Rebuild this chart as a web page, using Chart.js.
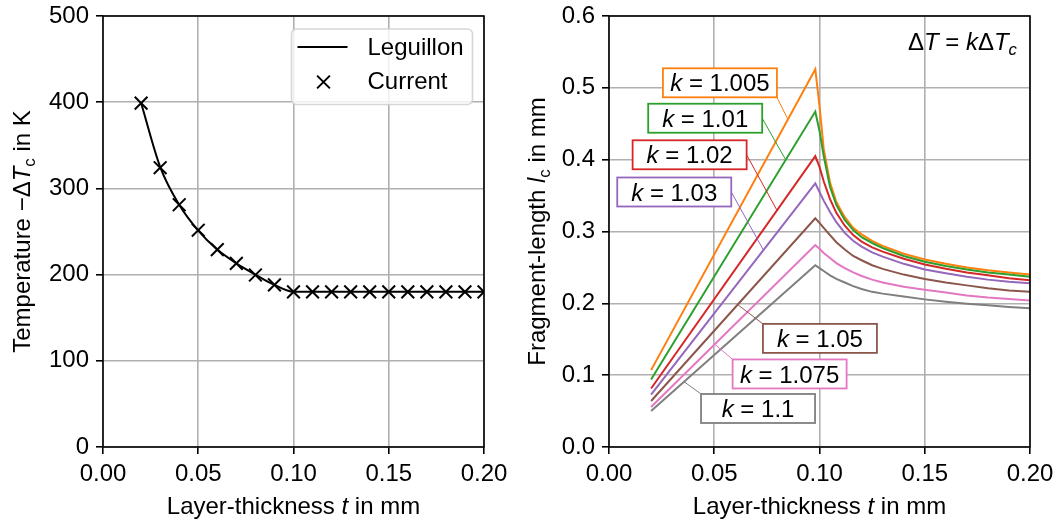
<!DOCTYPE html>
<html><head><meta charset="utf-8">
<script src="https://cdn.jsdelivr.net/npm/chart.js@4/dist/chart.umd.min.js"></script>
<style>
html,body{margin:0;padding:0;background:#fff;width:1059px;height:522px;overflow:hidden}
#c1{position:absolute;left:0;top:0}
#c2{position:absolute;left:515px;top:0}
</style></head><body>
<canvas id="c1" width="515" height="522"></canvas>
<canvas id="c2" width="544" height="522"></canvas>
<script>
// ---------- data ----------
const thicknessLeft = [0.02,0.03,0.04,0.05,0.06,0.07,0.08,0.09,0.10,0.11,0.12,0.13,0.14,0.15,0.16,0.17,0.18,0.19,0.20];
const tempLeguillon = [399,325,281,251,229,213,200,188,180,180,180,180,180,180,180,180,180,180,180];
const tempCurrent   = [399,324,281,251.5,229,213,199.5,188,180,180,180,180,180,180,180,180,180,180,180];

const thicknessRight = [0.02,0.098,0.100,0.102,0.105,0.108,0.112,0.116,0.12,0.125,0.13,0.14,0.15,0.16,0.17,0.18,0.19,0.20];
const lenK1005 = [0.107,0.526,0.475,0.415,0.368,0.341,0.320,0.305,0.296,0.287,0.280,0.269,0.261,0.255,0.250,0.246,0.243,0.240];
const lenK101  = [0.094,0.467,0.440,0.405,0.362,0.337,0.316,0.302,0.292,0.284,0.277,0.266,0.258,0.252,0.247,0.243,0.240,0.237];
const lenK102  = [0.0815,0.405,0.390,0.370,0.345,0.326,0.308,0.295,0.286,0.278,0.272,0.262,0.254,0.248,0.243,0.239,0.235,0.232];
const lenK103  = [0.073,0.367,0.355,0.343,0.327,0.313,0.298,0.287,0.279,0.271,0.265,0.255,0.247,0.242,0.237,0.233,0.230,0.228];
const lenK105  = [0.064,0.3185,0.312,0.305,0.295,0.285,0.275,0.266,0.260,0.253,0.248,0.240,0.234,0.229,0.225,0.221,0.218,0.216];
const lenK1075 = [0.0558,0.281,0.276,0.270,0.263,0.256,0.249,0.243,0.238,0.233,0.229,0.223,0.219,0.215,0.211,0.208,0.206,0.204];
const lenK11   = [0.050,0.253,0.249,0.245,0.239,0.234,0.229,0.224,0.220,0.216,0.2135,0.2095,0.2055,0.2022,0.1995,0.1972,0.195,0.193];

const kLabels = ['1.005','1.01','1.02','1.03','1.05','1.075','1.1'];
const kColors = ['#ff7f0e','#2ca02c','#d62728','#9467bd','#8c564b','#e377c2','#7f7f7f'];
const kSeries = [lenK1005,lenK101,lenK102,lenK103,lenK105,lenK1075,lenK11];
// label box centre and leader target (data coordinates)
const kBoxT   = [0.0527,0.0457,0.0383,0.0310,0.1002,0.0858,0.0708];
const kBoxV   = [0.507,0.4577,0.4068,0.355,0.1512,0.1017,0.0536];
const kTargT  = [0.0850,0.0839,0.0797,0.0733,0.0614,0.0504,0.0353];
const kTargV  = [0.456,0.400,0.330,0.2745,0.1976,0.1428,0.0916];
// where the leader leaves the box (fraction of box width / height)
const kAnchorX = [1,1,1,1,0,0,0];
const kAnchorY = [1,0.5,0.5,0.5,0,0,0];

const xTicks = [0,0.05,0.10,0.15,0.20];

// ---------- helpers ----------
const FONT = '"Liberation Sans", Arial, Helvetica, sans-serif';
const FS = 24;
Chart.defaults.font.family = FONT;
Chart.defaults.font.size = FS;
Chart.defaults.color = '#000';
function fs(size, it){ return (it?'italic ':'') + size + 'px ' + FONT; }
function drawRich(ctx, segs, x, y, size, align, rot){
  ctx.save();
  ctx.translate(x,y);
  if(rot) ctx.rotate(rot);
  ctx.textBaseline='alphabetic';
  ctx.textAlign='left';
  let w=0; const ms=[];
  for(const s of segs){ ctx.font=fs(s.sub?size*0.7:size, s.i); const m=ctx.measureText(s.t).width; ms.push(m); w+=m; }
  let cx = align==='center' ? -w/2 : (align==='right' ? -w : 0);
  segs.forEach((s,i)=>{ ctx.font=fs(s.sub?size*0.7:size, s.i); ctx.fillStyle='#000'; ctx.fillText(s.t, cx, s.sub? size*0.22 : 0); cx+=ms[i]; });
  ctx.restore();
}
const gridOpts = {color:'#b0b0b0', lineWidth:1.6, tickColor:'#000', tickLength:7, tickWidth:1.6};
function zeroPad(s){ s.paddingLeft=0; s.paddingRight=0; s.paddingTop=0; s.paddingBottom=0; }

const framePlugin = {
  id:'frame',
  afterDraw(chart){
    const {ctx, chartArea:a} = chart;
    ctx.save(); ctx.strokeStyle='#000'; ctx.lineWidth=1.6;
    ctx.strokeRect(a.left, a.top, a.right-a.left, a.bottom-a.top);
    ctx.restore();
  }
};

// ---------- left chart ----------
const leftTitles = {
  id:'leftTitles',
  afterDraw(chart){
    const {ctx, chartArea:a} = chart;
    drawRich(ctx, [{t:'Layer-thickness '},{t:'t',i:true},{t:' in mm'}], (a.left+a.right)/2, 514, FS, 'center');
    drawRich(ctx, [{t:'Temperature \u2212\u0394'},{t:'T',i:true},{t:'c',sub:true},{t:' in K'}], 30, (a.top+a.bottom)/2, FS, 'center', -Math.PI/2);
  }
};
const leftLegend = {
  id:'leftLegend',
  afterDatasetsDraw(chart){
    const {ctx, chartArea:a} = chart;
    const L=a.right-192.5, T=a.top+13, W=181, H=75.5, r=5;
    ctx.save();
    ctx.beginPath(); ctx.roundRect(L,T,W,H,r);
    ctx.fillStyle='rgba(255,255,255,0.8)'; ctx.fill();
    ctx.strokeStyle='rgba(204,204,204,0.8)'; ctx.lineWidth=1.6; ctx.stroke();
    ctx.strokeStyle='#000'; ctx.lineWidth=2;
    ctx.beginPath(); ctx.moveTo(L+6,T+18); ctx.lineTo(L+56,T+18); ctx.stroke();
    const mx=L+32, my=T+53, d=6.4;
    ctx.beginPath(); ctx.moveTo(mx-d,my-d); ctx.lineTo(mx+d,my+d); ctx.moveTo(mx+d,my-d); ctx.lineTo(mx-d,my+d); ctx.stroke();
    ctx.fillStyle='#000'; ctx.font=fs(FS); ctx.textBaseline='alphabetic'; ctx.textAlign='left';
    ctx.fillText(chart.data.datasets[0].label, L+76, T+26);
    ctx.fillText(chart.data.datasets[1].label, L+76, T+60);
    ctx.restore();
  }
};
new Chart(document.getElementById('c1'), {
  type:'line',
  data:{datasets:[
    {label:'Leguillon', data:thicknessLeft.map((t,i)=>({x:t,y:tempLeguillon[i]})), borderColor:'#000', borderWidth:2, pointRadius:0, cubicInterpolationMode:'monotone', fill:false, order:1},
    {label:'Current', data:thicknessLeft.map((t,i)=>({x:t,y:tempCurrent[i]})), showLine:false, pointStyle:'crossRot', pointRadius:9, borderColor:'#000', backgroundColor:'#000', pointBorderWidth:2, order:0}
  ]},
  options:{
    responsive:false, animation:false, events:[],
    layout:{padding:{left:0,right:31,top:16,bottom:0}},
    plugins:{legend:{display:false}, tooltip:{enabled:false}},
    scales:{
      x:{type:'linear', min:0, max:0.2, afterBuildTicks:s=>{s.ticks=xTicks.map(v=>({value:v}));},
         ticks:{callback:v=>v.toFixed(2), padding:6, maxRotation:0, autoSkip:false},
         grid:gridOpts, border:{display:false}, afterFit:s=>{s.height=75; zeroPad(s);}},
      y:{type:'linear', min:0, max:500, ticks:{stepSize:100, padding:7},
         grid:gridOpts, border:{display:false}, afterFit:s=>{s.width=103; zeroPad(s);}}
    }
  },
  plugins:[framePlugin, leftTitles, leftLegend]
});

// ---------- right chart ----------
const rightDecor = {
  id:'rightDecor',
  afterDatasetsDraw(chart){
    const {ctx, chartArea:a, scales:{x,y}} = chart;
    ctx.save();
    const bw=114, bh=29;
    kLabels.forEach((lab,i)=>{
      const cx=x.getPixelForValue(kBoxT[i]), cy=y.getPixelForValue(kBoxV[i]);
      const tx=x.getPixelForValue(kTargT[i]), ty=y.getPixelForValue(kTargV[i]);
      const sx=cx-bw/2+kAnchorX[i]*bw, sy=cy-bh/2+kAnchorY[i]*bh;
      ctx.strokeStyle=kColors[i]; ctx.lineWidth=1;
      ctx.beginPath(); ctx.moveTo(sx,sy); ctx.lineTo(tx,ty); ctx.stroke();
      ctx.fillStyle='#fff'; ctx.fillRect(cx-bw/2, cy-bh/2, bw, bh);
      ctx.lineWidth=1.8; ctx.strokeRect(cx-bw/2, cy-bh/2, bw, bh);
      drawRich(ctx, [{t:'k',i:true},{t:' = '+lab}], cx, cy+8.6, FS, 'center');
    });
    drawRich(ctx, [{t:'\u0394'},{t:'T',i:true},{t:' = '},{t:'k',i:true},{t:'\u0394'},{t:'T',i:true},{t:'c',i:true,sub:true}], a.right-13, a.top+33.5, FS, 'right');
    ctx.restore();
  },
  afterDraw(chart){
    const {ctx, chartArea:a} = chart;
    drawRich(ctx, [{t:'Layer-thickness '},{t:'t',i:true},{t:' in mm'}], (a.left+a.right)/2, 514, FS, 'center');
    drawRich(ctx, [{t:'Fragment-length '},{t:'l',i:true},{t:'c',sub:true},{t:' in mm'}], 30, (a.top+a.bottom)/2, FS, 'center', -Math.PI/2);
  }
};
new Chart(document.getElementById('c2'), {
  type:'line',
  data:{datasets:kSeries.map((s,i)=>({
    label:'k = '+kLabels[i], data:thicknessRight.map((t,j)=>({x:t,y:s[j]})),
    borderColor:kColors[i], borderWidth:2, pointRadius:0, fill:false, tension:0, order:kSeries.length-i
  }))},
  options:{
    responsive:false, animation:false, events:[],
    layout:{padding:{left:0,right:29,top:16,bottom:0}},
    plugins:{legend:{display:false}, tooltip:{enabled:false}},
    scales:{
      x:{type:'linear', min:0, max:0.2, afterBuildTicks:s=>{s.ticks=xTicks.map(v=>({value:v}));},
         ticks:{callback:v=>v.toFixed(2), padding:6, maxRotation:0, autoSkip:false},
         grid:gridOpts, border:{display:false}, afterFit:s=>{s.height=75; zeroPad(s);}},
      y:{type:'linear', min:0, max:0.6, ticks:{stepSize:0.1, padding:7, callback:v=>v.toFixed(1)},
         grid:gridOpts, border:{display:false}, afterFit:s=>{s.width=94; zeroPad(s);}}
    }
  },
  plugins:[framePlugin, rightDecor]
});
</script>
</body></html>
